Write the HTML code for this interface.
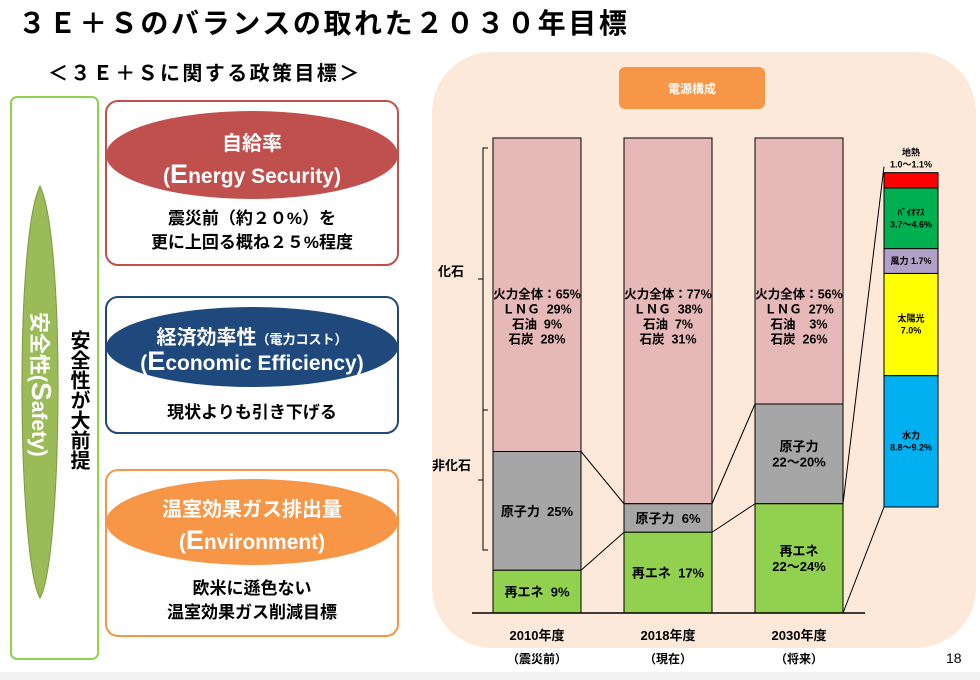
<!DOCTYPE html>
<html><head><meta charset="utf-8"><style>
html,body{margin:0;padding:0;background:#fff;}
svg{display:block;font-family:"Liberation Sans","Noto Sans CJK JP",sans-serif;}
text{white-space:pre;}
</style></head><body>
<svg id="s" width="980" height="680" viewBox="0 0 980 680" xml:space="preserve">
<rect x="0" y="672" width="980" height="8" fill="#f2f2f2"/>
<text x="18" y="33" font-size="28" font-weight="bold" fill="#000" letter-spacing="2.6">３Ｅ＋Ｓのバランスの取れた２０３０年目標</text>
<text x="48" y="80" font-size="20" font-weight="bold" letter-spacing="2.4">＜３Ｅ＋Ｓに関する政策目標＞</text>
<g>
<rect x="11" y="97" width="87" height="562" rx="6" fill="#fff" stroke="#92d050" stroke-width="2"/>
<path d="M40 186 C66 240 62 560 40 598 C18 560 14 240 40 186 Z" fill="#9bbb59" stroke="#7a9a40"/>
<text transform="translate(32,312) rotate(90)" font-size="21" font-weight="bold" fill="#fff">安全性(<tspan font-size="28">S</tspan>afety)</text>
<text x="78" y="330" font-size="20" font-weight="bold" style="writing-mode:vertical-rl">安全性が大前提</text>
</g>
<g>
<rect x="106" y="101" width="292" height="164" rx="12" fill="#fff" stroke="#c0504d" stroke-width="2"/>
<ellipse cx="252" cy="155" rx="146" ry="44" fill="#c0504d"/>
<text x="252" y="150" font-size="20" font-weight="bold" fill="#fff" text-anchor="middle">自給率</text>
<text x="252" y="183" font-size="21" font-weight="bold" fill="#fff" text-anchor="middle">(<tspan font-size="27">E</tspan>nergy Security)</text>
<text x="252" y="224" font-size="17" font-weight="bold" text-anchor="middle">震災前（約２０%）を</text>
<text x="252" y="248" font-size="17" font-weight="bold" text-anchor="middle">更に上回る概ね２５%程度</text>
</g>
<g>
<rect x="106" y="297" width="292" height="136" rx="12" fill="#fff" stroke="#1f497d" stroke-width="2"/>
<ellipse cx="252" cy="347" rx="146" ry="40" fill="#1f497d"/>
<text x="252" y="344" font-size="20" font-weight="bold" fill="#fff" text-anchor="middle">経済効率性<tspan font-size="13">（電力コスト）</tspan></text>
<text x="252" y="370" font-size="21" font-weight="bold" fill="#fff" text-anchor="middle">(<tspan font-size="27">E</tspan>conomic Efficiency)</text>
<text x="252" y="418" font-size="17" font-weight="bold" text-anchor="middle">現状よりも引き下げる</text>
</g>
<g>
<rect x="106" y="470" width="292" height="166" rx="12" fill="#fff" stroke="#f79646" stroke-width="2"/>
<ellipse cx="252" cy="522" rx="146" ry="43" fill="#f79646"/>
<text x="252" y="516" font-size="20" font-weight="bold" fill="#fff" text-anchor="middle">温室効果ガス排出量</text>
<text x="252" y="549" font-size="21" font-weight="bold" fill="#fff" text-anchor="middle">(<tspan font-size="27">E</tspan>nvironment)</text>
<text x="252" y="594" font-size="17" font-weight="bold" text-anchor="middle">欧米に遜色ない</text>
<text x="252" y="618" font-size="17" font-weight="bold" text-anchor="middle">温室効果ガス削減目標</text>
</g>
<rect x="432" y="52" width="544" height="596" rx="60" fill="#fde9d9"/>
<rect x="619" y="67" width="146" height="42" rx="6" fill="#f79646"/>
<text x="692" y="93" font-size="12" font-weight="bold" fill="#fff" text-anchor="middle">電源構成</text>
<g stroke="#000" stroke-width="1" fill="none">
<path d="M488 148 H483 V550 H488 M483 410 H488 M483 279 H478 M483 480 H478"/>
</g>
<text x="438" y="276" font-size="13" font-weight="bold">化石</text>
<text x="432" y="470" font-size="13" font-weight="bold">非化石</text>
<g id="bars"></g>
<g id="detail"></g>
<text x="946" y="663" font-size="14">18</text>
</svg>
<script>
const years = ['2010年度','2018年度','2030年度'];
const subLabels = ['（震災前）','（現在）','（将来）'];
const renewables = [9, 17, 23];
const nuclear = [25, 6, 21];
const renLabels = [['再エネ  9%'],['再エネ  17%'],['再エネ','22〜24%']];
const nucLabels = [['原子力  25%'],['原子力  6%'],['原子力','22〜20%']];
const fossilLabels = [['火力全体：65%','ＬＮＧ  29%','石油  9%','石炭  28%'],['火力全体：77%','ＬＮＧ  38%','石油  7%','石炭  31%'],['火力全体：56%','ＬＮＧ  27%','石油    3%','石炭  26%']];
const detailNames = ['水力','太陽光','風力','ﾊﾞｲｵﾏｽ','地熱'];
const detailValues = [9.0, 7.0, 1.7, 4.15, 1.05];
const detailLabels = ['8.8〜9.2%','7.0%','1.7%','3.7〜4.6%','1.0〜1.1%'];

const NS='http://www.w3.org/2000/svg';
const base=613, top0=138, H=base-top0;
const y = v => base - v/100*H;
const bx = i => 493 + i*131, bw = 88;
function mk(tag, attrs, parent, txt){const e=document.createElementNS(NS,tag);for(const k in attrs)e.setAttribute(k,attrs[k]);if(txt!==undefined)e.textContent=txt;parent.appendChild(e);return e;}
const g=document.getElementById('bars');
function lines(arr, cx, cy, fs, parent){const lh=fs*1.2;arr.forEach((t,j)=>{mk('text',{x:cx,y:cy+(j-(arr.length-1)/2)*lh+fs*0.38,'font-size':fs,'font-weight':'bold','text-anchor':'middle'},parent,t);});}
years.forEach((yr,i)=>{
  const x=bx(i), r=renewables[i], n=nuclear[i];
  const rf=mk('rect',{x:x,y:y(100),width:bw,height:y(r+n)-y(100),fill:'#e6b8b7',stroke:'#000','stroke-width':1},g);
  
  
  const rn=mk('rect',{x:x,y:y(r+n),width:bw,height:y(r)-y(r+n),fill:'#a6a6a6',stroke:'#000','stroke-width':1},g);
  
  
  const rr=mk('rect',{x:x,y:y(r),width:bw,height:y(0)-y(r),fill:'#92d050',stroke:'#000','stroke-width':1},g);
  
  
  lines(fossilLabels[i], x+bw/2, 316, 12.5, g);
  lines(nucLabels[i], x+bw/2, (y(r+n)+y(r))/2, 13, g);
  lines(renLabels[i], x+bw/2, (y(r)+y(0))/2, 13, g);
  const t1=mk('text',{x:x+bw/2,y:640,'font-size':13,'font-weight':'bold','text-anchor':'middle'},g,yr);
  
  
  mk('text',{x:x+bw/2,y:663,'font-size':12,'font-weight':'bold','text-anchor':'middle'},g,subLabels[i]);
  if(i<years.length-1){
    const x2=bx(i+1), r2=renewables[i+1], n2=nuclear[i+1];
    mk('line',{x1:x+bw,y1:y(r+n),x2:x2,y2:y(r2+n2),stroke:'#000'},g);
    mk('line',{x1:x+bw,y1:y(r),x2:x2,y2:y(r2),stroke:'#000'},g);
  }
});
const ax=mk('line',{x1:472,y1:base,x2:865,y2:base,stroke:'#000','stroke-width':1.5},g);


const d=document.getElementById('detail');
const dBase=507, dScale=14.6, dx=884, dw=54;
const colors=['#00b0f0','#ffff00','#b1a0c7','#00b050','#ff0000'];
let acc=0;
detailValues.forEach((v,k)=>{
  const y1=dBase-(acc+v)*dScale, y2=dBase-acc*dScale;
  const r=mk('rect',{x:dx,y:y1,width:dw,height:y2-y1,fill:colors[k],stroke:'#000','stroke-width':1},d);
  
  
  const cy=(y1+y2)/2;
  if(k===4){
    mk('text',{x:dx+dw/2,y:y1-17,'font-size':9,'font-weight':'bold','text-anchor':'middle'},d,detailNames[k]);
    mk('text',{x:dx+dw/2,y:y1-5,'font-size':9,'font-weight':'bold','text-anchor':'middle'},d,detailLabels[k]);
  } else if(k===2){
    mk('text',{x:dx+dw/2,y:cy+3,'font-size':9,'font-weight':'bold','text-anchor':'middle'},d,detailNames[k]+' '+detailLabels[k]);
  } else {
    mk('text',{x:dx+dw/2,y:cy-3,'font-size':9,'font-weight':'bold','text-anchor':'middle'},d,detailNames[k]);
    mk('text',{x:dx+dw/2,y:cy+9,'font-size':9,'font-weight':'bold','text-anchor':'middle'},d,detailLabels[k]);
  }
  acc+=v;
});
const x3=bx(2)+bw;
mk('line',{x1:x3,y1:y(renewables[2]),x2:dx,y2:dBase-acc*dScale-6,stroke:'#000'},d);
mk('line',{x1:x3,y1:base,x2:dx,y2:dBase,stroke:'#000'},d);
</script>
</body></html>
